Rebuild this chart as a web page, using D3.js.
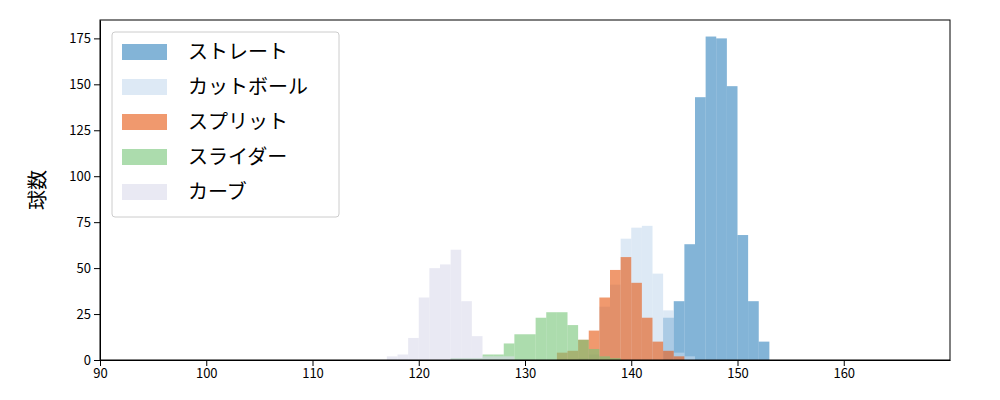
<!DOCTYPE html>
<html><head><meta charset="utf-8">
<script src="https://cdn.jsdelivr.net/npm/d3@7"></script>
<style>body{margin:0;background:#fff}text{font-family:"Noto Sans CJK JP","DejaVu Sans",sans-serif}</style>
</head><body><div id="chart"></div>
<script>
// bins are 1 km/h wide, keyed by lower edge
const names = ["ストレート", "カットボール", "スプリット", "スライダー", "カーブ"];
const colors = ["#3182bd", "#c6dbef", "#e6550d", "#74c476", "#dadaeb"];
const straight = [[143,23],[144,32],[145,63],[146,143],[147,176],[148,175],[149,149],[150,68],[151,32],[152,10]];
const cutter = [[135,1],[136,3],[137,29],[138,41],[139,66],[140,72],[141,73],[142,47],[143,27],[144,4],[145,2]];
const split = [[133,4],[134,5],[135,11],[136,16],[137,34],[138,49],[139,56],[140,42],[141,23],[142,10],[143,5],[144,2]];
const slider = [[123,1],[124,1],[125,1],[126,3],[127,3],[128,9],[129,14],[130,14],[131,23],[132,26],[133,26],[134,19],[135,11],[136,6],[137,2],[138,1]];
const curve = [[117,2],[118,3],[119,12],[120,34],[121,50],[122,52],[123,60],[124,32],[125,13],[126,2],[127,2],[128,2]];
const series = [straight, cutter, split, slider, curve];
const xTicks = [90,100,110,120,130,140,150,160];
const yTicks = [0,25,50,75,100,125,150,175];

const W = 1000, H = 400, m = {top: 20, right: 50, bottom: 40, left: 100};
const svg = d3.select("#chart").append("svg").attr("width", W).attr("height", H);
const x = d3.scaleLinear().domain([90, 170]).range([m.left, W - m.right]);
const y = d3.scaleLinear().domain([0, 185]).range([H - m.bottom, m.top]);

series.forEach((s, i) => {
  svg.append("g").selectAll("rect").data(s).enter().append("rect")
    .attr("x", d => x(d[0])).attr("width", d => x(d[0] + 1) - x(d[0]))
    .attr("y", d => y(d[1])).attr("height", d => y(0) - y(d[1]))
    .attr("fill", colors[i]).attr("fill-opacity", 0.6);
});

svg.append("g").attr("transform", "translate(0," + (H - m.bottom) + ")")
  .call(d3.axisBottom(x).tickValues(xTicks).tickSizeOuter(0))
  .call(g => g.selectAll("text").attr("font-size", 13).attr("fill", "#000"));
svg.append("g").attr("transform", "translate(" + m.left + ",0)")
  .call(d3.axisLeft(y).tickValues(yTicks).tickSizeOuter(0))
  .call(g => g.selectAll("text").attr("font-size", 13).attr("fill", "#000"));
svg.append("rect").attr("x", m.left).attr("y", m.top)
  .attr("width", W - m.left - m.right).attr("height", H - m.top - m.bottom)
  .attr("fill", "none").attr("stroke", "#000");

svg.append("text").attr("transform", "translate(45," + ((m.top + H - m.bottom) / 2) + ") rotate(-90)")
  .attr("text-anchor", "middle").attr("font-size", 20).text("球数");

const lg = svg.append("g").attr("transform", "translate(112,32)");
lg.append("rect").attr("width", 227).attr("height", 185).attr("rx", 3)
  .attr("fill", "#fff").attr("fill-opacity", 0.8).attr("stroke", "#ccc");
names.forEach((n, i) => {
  lg.append("rect").attr("x", 10).attr("y", 12 + i * 35).attr("width", 45).attr("height", 16)
    .attr("fill", colors[i]).attr("fill-opacity", 0.6);
  lg.append("text").attr("x", 76).attr("y", 27 + i * 35).attr("font-size", 20).text(n);
});
</script></body></html>
